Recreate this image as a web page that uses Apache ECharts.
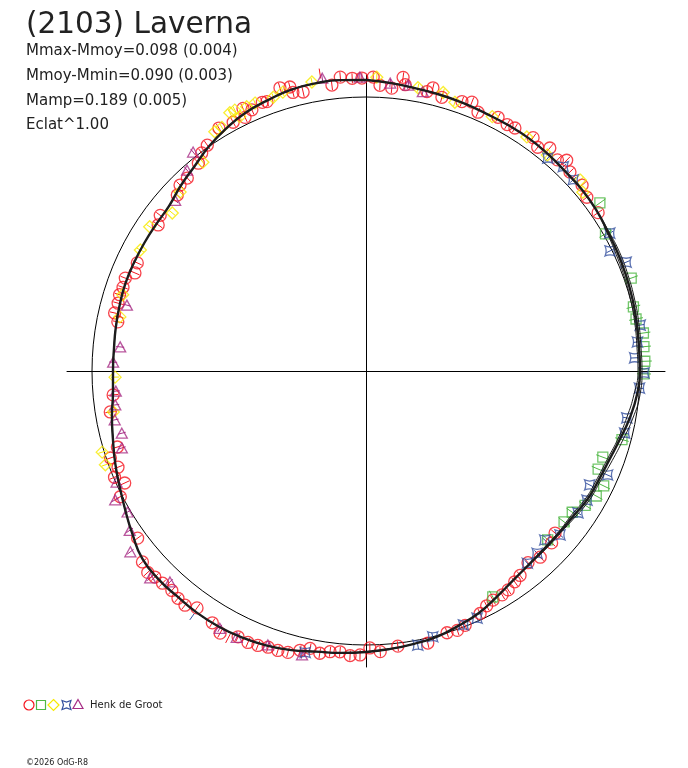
<!DOCTYPE html>
<html>
<head>
<meta charset="utf-8">
<title>(2103) Laverna</title>
<script src="https://cdn.jsdelivr.net/npm/echarts@6/dist/echarts.min.js"></script>
<style>
  html, body { margin: 0; padding: 0; background: #fff; }
  #chart { width: 688px; height: 768px; }
</style>
</head>
<body>
<div id="chart"></div>
<script>
// phase in degrees (0 at top, clockwise), radius in plot units (300 = polar edge)
const curvePhase = [0, 5, 10, 15, 20, 25, 30, 35, 40, 45, 50, 55, 60, 65, 70, 75, 80, 85, 90, 95, 100, 105, 110, 115,
  120, 125, 130, 135, 140, 145, 150, 155, 160, 165, 170, 175, 180, 185, 190, 195, 200, 205, 210, 215, 220, 225, 230, 235,
  240, 245, 250, 255, 260, 265, 270, 275, 280, 285, 290, 295, 300, 305, 310, 315, 320, 325, 330, 335, 340, 345, 350, 355, 360];
const curveRadius = [291, 289, 287, 286, 285, 284, 284, 284, 283, 282, 282, 281, 279, 278, 277, 276, 275, 274, 274, 272, 268, 263, 259, 257,
  256, 253, 252, 252, 253, 256, 261, 267, 271, 275, 277, 279, 281, 283, 285, 289, 292, 294, 295, 295, 294, 294, 292, 285,
  278, 272, 267, 262, 258, 254, 253, 253, 254, 255, 256, 256, 256, 256, 257, 262, 267, 274, 280, 285, 288, 291, 292, 292, 291];
// the fit is drawn several times; the copies split apart on the right side
const curveOuter = [291, 289, 287, 286, 285, 284, 284, 284, 283, 282, 282, 281, 280, 280, 279, 278, 277, 276, 276, 275, 271, 266, 262, 259,
  258, 255, 253, 253, 253, 256, 261, 267, 271, 275, 277, 279, 281, 283, 285, 289, 292, 294, 295, 295, 294, 294, 292, 285,
  278, 272, 267, 262, 258, 254, 253, 253, 254, 255, 256, 256, 256, 256, 257, 262, 267, 274, 280, 285, 288, 291, 292, 292, 291];
const curveInner = [291, 289, 287, 286, 285, 284, 284, 284, 283, 282, 282, 281, 278, 276, 275, 274, 273, 272, 272, 269, 265, 261, 257, 255,
  254, 251, 251, 251, 253, 256, 261, 267, 271, 275, 277, 279, 281, 283, 285, 289, 292, 294, 295, 295, 294, 294, 292, 285,
  278, 272, 267, 262, 258, 254, 253, 253, 254, 255, 256, 256, 256, 256, 257, 262, 267, 274, 280, 285, 288, 291, 292, 292, 291];
const refRadius = 274; // Mmoy circle
const radiusMax = 300;

// observations per symbol: [phase, radius]
const redObs = [
  [328.8, 284], [331.9, 282], [334.9, 290], [334.5, 281], [336.4, 285], [338.9, 288], [339.8, 287], [343.1, 296],
  [345, 294], [345.3, 288], [347.3, 286], [351.2, 301], [353.2, 288], [355, 295], [357.3, 293], [359.2, 293],
  [1.4, 294], [2.8, 286], [5.2, 284], [7.2, 296], [7.8, 289], [12.3, 286],
  [13.3, 291], [15.5, 284], [19.6, 286], [21.5, 289], [23.4, 282], [27.5, 286], [29.8, 284], [31.5, 285],
  [35.6, 287], [37.5, 282], [39.5, 289], [42.2, 285], [43.6, 291], [45.7, 285], [49.3, 285], [51.8, 281], [55.7, 281],
  [130.6, 249], [132.8, 253], [136.9, 255], [139.8, 251], [143, 256], [144.8, 258], [147, 261], [148.7, 262],
  [151, 262], [152.8, 264], [154.8, 268], [158.7, 273], [160.6, 275], [162.8, 274], [167.2, 279],
  [173.4, 277], [177.1, 281], [179.2, 277], [181.2, 284], [183.2, 285], [185.3, 282], [187.3, 283], [189.3, 286],
  [191.4, 283], [193.3, 287], [195.5, 292], [197.5, 293], [199.5, 293], [201.5, 295], [203.5, 296], [205.7, 295],
  [207.3, 301], [209.1, 300], [211.4, 295], [215.5, 291], [217.7, 296],
  [219.6, 295], [221.5, 293], [223.8, 294], [225.7, 295], [227.3, 297], [229.5, 294], [233.8, 283], [242.9, 276],
  [245.1, 266], [247.1, 273], [248.8, 266], [251.2, 270], [253, 260], [260.9, 259], [264.6, 254],
  [281.2, 253], [283, 258], [285.3, 257], [287.2, 258], [289, 257], [291.1, 258], [293, 251], [295.3, 253],
  [305.1, 254], [307.1, 258], [313, 258], [315, 263], [317.2, 263], [321.1, 267], [323, 273], [324.9, 276]
];
const greenObs = [
  [54.3, 288], [60.2, 276], [70.7, 281], [76.5, 275], [79.1, 275], [82.2, 280], [85, 279], [88, 279], [90.6, 278],
  [105, 265], [110, 252], [112.9, 252], [115.8, 264], [118.5, 262], [121.5, 257], [124.4, 250], [127.3, 249],
  [132.9, 248], [150.7, 259]
];
const yellowObs = [
  [327.7, 283], [329.4, 283], [332.2, 292], [333.3, 292], [333.6, 284], [335.7, 290], [337.5, 290], [341.3, 289],
  [343.4, 291], [349.4, 294], [2.1, 294], [10.4, 288],
  [15.5, 289], [18.3, 283], [26.4, 284], [34.5, 284], [40, 282], [48.3, 287], [50.5, 281],
  [322, 265], [313.9, 258], [309.2, 250], [303.7, 260], [298.2, 256], [287.4, 255], [282.4, 252], [268.6, 251],
  [260.8, 256], [252.9, 276], [250.2, 277]
];
const blueObs = [
  [40.5, 280], [44, 284], [47.3, 282], [60.5, 280], [63.8, 272], [67.3, 282], [80.5, 278], [83.9, 273],
  [87.2, 269], [90.4, 278], [93.6, 274], [100.2, 265], [103.5, 266], [113.3, 263], [117, 251], [120.3, 256],
  [123.8, 255], [130.2, 254], [133.4, 246], [136.8, 250], [140, 251], [155.8, 271], [159, 272], [165.9, 274],
  [169.3, 279], [192.2, 288], [215.3, 301]
];
const purpleObs = [
  [351.5, 296], [358.8, 294], [4.8, 289], [8.4, 289], [11.5, 285], [321.7, 279], [318.3, 269], [311.8, 256],
  [285.4, 248], [275.6, 247], [272, 253], [265.4, 251], [262.3, 253], [259, 256], [255.7, 252], [252.5, 256],
  [246, 273], [242.8, 282], [239.4, 277], [236, 285], [232.5, 297], [226.2, 299], [222.9, 288], [209.6, 296],
  [205.9, 296], [199.7, 291], [192.7, 291]
];
// typical error half-width per observer set, in radius units
const obsError = { red: 5, green: 7, yellow: 4, blue: 4, purple: 4 };

const titleText = '(2103) Laverna';
const statLines = ['Mmax-Mmoy=0.098 (0.004)', 'Mmoy-Mmin=0.090 (0.003)', 'Mamp=0.189 (0.005)', 'Eclat^1.00'];
const observer = 'Henk de Groot';
const credit = '\u00a92026 OdG-R8';

const RED = '#f5141e', GREEN = '#4fb845', YELLOW = '#f7ea00', BLUE = '#34509f', PURPLE = '#a72d86';
const STAR = 'path://M0,0 Q5,2.2 10,0 Q7.8,5 10,10 Q5,7.8 0,10 Q2.2,5 0,0 Z';

const chart = echarts.init(document.getElementById('chart'), null, { renderer: 'canvas' });

function toPolar(list) {
  return list.map(p => [p[1], p[0]]);
}
function curveData(radii) {
  return curvePhase.map((p, i) => [radii[i], p]);
}
function obsSeries(name, list, color, symbol, size) {
  return {
    name: name,
    type: 'scatter',
    coordinateSystem: 'polar',
    data: toPolar(list),
    symbol: symbol,
    symbolSize: size,
    itemStyle: { color: 'rgba(0,0,0,0)', borderColor: color, borderWidth: 1.3 },
    emphasis: { disabled: true },
    z: 3
  };
}
function errorSeries(name, list, color, err) {
  return {
    name: name + ' err',
    type: 'custom',
    coordinateSystem: 'polar',
    data: toPolar(list),
    silent: true,
    z: 3,
    renderItem: function (params, api) {
      const r = api.value(0), ph = api.value(1);
      const a = api.coord([r - err, ph]);
      const b = api.coord([r + err, ph]);
      return {
        type: 'line',
        shape: { x1: a[0], y1: a[1], x2: b[0], y2: b[1] },
        style: { stroke: color, lineWidth: 1 }
      };
    }
  };
}
function curveSeries(name, radii, width) {
  return {
    name: name,
    type: 'line',
    coordinateSystem: 'polar',
    data: curveData(radii),
    smooth: true,
    showSymbol: false,
    silent: true,
    lineStyle: { color: '#1c1c1c', width: width },
    z: 5
  };
}

const hiddenAxis = {
  type: 'value', min: -1, max: 1,
  axisLine: { show: true, onZero: true, lineStyle: { color: '#000', width: 1 } },
  axisTick: { show: false }, axisLabel: { show: false }, splitLine: { show: false }
};

const textFont = 'DejaVu Sans';
const graphics = [
  { type: 'text', x: 26, y: 25, style: { text: titleText, fontFamily: textFont, fontSize: 29.5, fill: '#222', verticalAlign: 'middle' } }
];
statLines.forEach((line, i) => {
  graphics.push({ type: 'text', x: 26, y: 51.5 + i * 24.7,
    style: { text: line, fontFamily: textFont, fontSize: 15, fill: '#222', verticalAlign: 'middle' } });
});
// legend row
graphics.push(
  { type: 'circle', shape: { cx: 29, cy: 705, r: 5 }, style: { fill: 'none', stroke: RED, lineWidth: 1.2 } },
  { type: 'rect', shape: { x: 36.5, y: 700.5, width: 9, height: 9 }, style: { fill: 'none', stroke: GREEN, lineWidth: 1.2 } },
  { type: 'polygon', shape: { points: [[53.5, 699.5], [59, 705], [53.5, 710.5], [48, 705]] }, style: { fill: 'none', stroke: YELLOW, lineWidth: 1.2 } },
  { type: 'polygon', shape: { points: [[62, 700.5], [66.5, 702], [71, 700.5], [69.5, 705], [71, 709.5], [66.5, 708], [62, 709.5], [63.5, 705]] },
    style: { fill: 'none', stroke: BLUE, lineWidth: 1.2 } },
  { type: 'polygon', shape: { points: [[78, 699.5], [83, 708.5], [73, 708.5]] }, style: { fill: 'none', stroke: PURPLE, lineWidth: 1.2 } },
  { type: 'text', x: 90, y: 705.5, style: { text: observer, fontFamily: textFont, fontSize: 10, fill: '#222', verticalAlign: 'middle' } },
  { type: 'text', x: 26, y: 762.5, style: { text: credit, fontFamily: textFont, fontSize: 8, fill: '#222', verticalAlign: 'middle' } }
);

const polarCenter = [366, 371];
const polarRadius = 300;

const option = {
  backgroundColor: '#fff',
  animation: false,
  grid: { left: 67, top: 75, width: 598, height: 592 },
  xAxis: hiddenAxis,
  yAxis: hiddenAxis,
  polar: [
    { center: polarCenter, radius: polarRadius },
    { center: polarCenter, radius: refRadius * polarRadius / radiusMax }
  ],
  angleAxis: [
    { polarIndex: 0, type: 'value', min: 0, max: 360, startAngle: 90, clockwise: true, show: false },
    { polarIndex: 1, type: 'value', min: 0, max: 360, startAngle: 90,
      axisLine: { show: true, lineStyle: { color: '#000', width: 1 } },
      axisTick: { show: false }, axisLabel: { show: false }, splitLine: { show: false }, splitArea: { show: false } }
  ],
  radiusAxis: [
    { polarIndex: 0, type: 'value', min: 0, max: radiusMax, show: false },
    { polarIndex: 1, type: 'value', min: 0, max: 1, show: false }
  ],
  graphic: graphics,
  series: [
    errorSeries('red', redObs, RED, obsError.red),
    errorSeries('green', greenObs, GREEN, obsError.green),
    errorSeries('yellow', yellowObs, YELLOW, obsError.yellow),
    errorSeries('blue', blueObs, BLUE, obsError.blue),
    errorSeries('purple', purpleObs, PURPLE, obsError.purple),
    obsSeries('red', redObs, RED, 'circle', 12),
    obsSeries('green', greenObs, GREEN, 'rect', 10),
    obsSeries('yellow', yellowObs, YELLOW, 'diamond', 12),
    obsSeries('blue', blueObs, BLUE, STAR, 10),
    obsSeries('purple', purpleObs, PURPLE, 'triangle', [11, 10]),
    curveSeries('fit outer', curveOuter, 1),
    curveSeries('fit inner', curveInner, 1),
    curveSeries('fit', curveRadius, 2.4)
  ]
};
chart.setOption(option);
</script>
</body>
</html>
